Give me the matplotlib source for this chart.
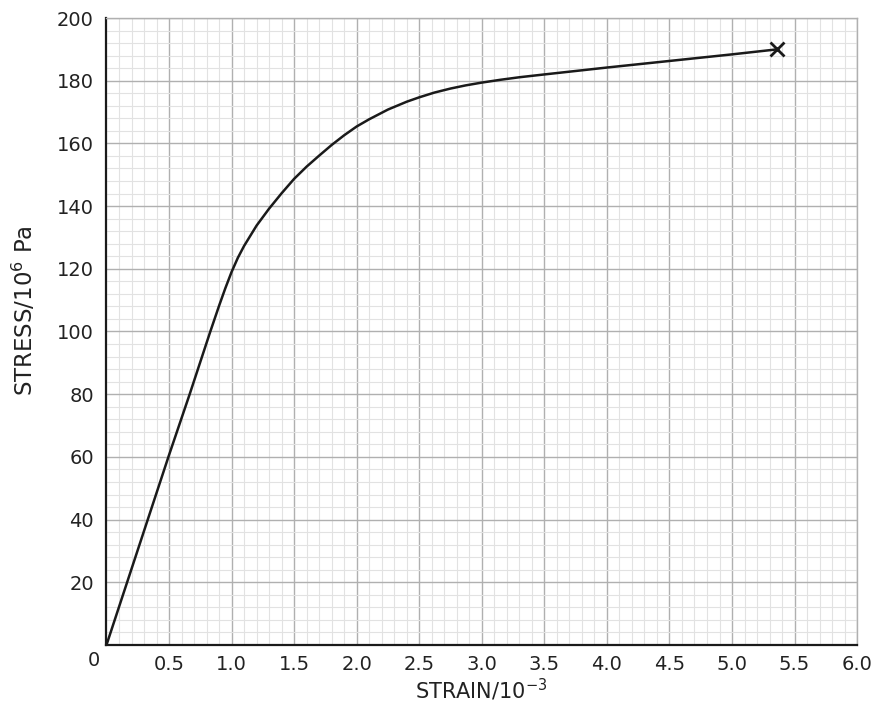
import matplotlib.pyplot as plt
import numpy as np
from matplotlib.ticker import MultipleLocator

# stress-strain curve
strain = [0.0, 0.165, 0.33, 0.495, 0.665, 0.83, 0.9, 0.95, 1.0, 1.05, 1.1, 1.2, 1.3, 1.4,
          1.5, 1.6, 1.7, 1.8, 1.9, 2.0, 2.1, 2.25, 2.4, 2.5, 2.62, 2.75, 2.87,
          3.0, 3.15, 3.3, 3.5, 4.0, 4.5, 5.0, 5.36]
stress = [0.0, 20, 40, 60, 80, 100, 108.2, 113.8, 119, 123.5, 127.3, 133.8, 139.2, 144.1,
          148.7, 152.6, 156.1, 159.5, 162.6, 165.4, 167.7, 170.8, 173.3, 174.7, 176.2, 177.5, 178.5,
          179.4, 180.3, 181.1, 182.0, 184.2, 186.3, 188.4, 190]

# breaking point
break_strain = 5.36
break_stress = 190

x_ticks = [0.5, 1.0, 1.5, 2.0, 2.5, 3.0, 3.5, 4.0, 4.5, 5.0, 5.5, 6.0]
y_ticks = [20, 40, 60, 80, 100, 120, 140, 160, 180, 200]

plt.rcParams['font.family'] = ['DejaVu Sans']

fig = plt.figure(figsize=(8.8, 7.09), dpi=100)
ax = fig.add_axes([0.121, 0.0903, 0.853, 0.8843])

ax.set_xlim(0, 6.0)
ax.set_ylim(0, 200)

# graph paper grid
ax.xaxis.set_minor_locator(MultipleLocator(0.1))
ax.yaxis.set_minor_locator(MultipleLocator(4))
ax.grid(which='minor', color='#e2e2e2', lw=0.8)
ax.grid(which='major', color='#b0b0b0', lw=1.0)
ax.set_axisbelow(True)

ax.plot(strain, stress, color='#1a1a1a', lw=1.8, solid_capstyle='round', solid_joinstyle='round')
ax.plot([break_strain], [break_stress], marker='x', color='#1a1a1a', ms=10, mew=2.0)

ax.set_xticks(x_ticks)
ax.set_xticklabels(['%.1f' % v for v in x_ticks])
ax.set_yticks(y_ticks)
ax.set_yticklabels([str(v) for v in y_ticks])
ax.tick_params(which='both', length=0, labelsize=14, colors='#222222')
ax.tick_params(axis='x', pad=7)
ax.tick_params(axis='y', pad=9)

for s in ['top', 'right']:
    ax.spines[s].set_color('#b0b0b0')
    ax.spines[s].set_linewidth(1.0)
for s in ['left', 'bottom']:
    ax.spines[s].set_color('#1a1a1a')
    ax.spines[s].set_linewidth(1.6)

ax.text(-0.1, -4.8, '0', ha='center', va='center', fontsize=14, color='#222222')

ax.set_xlabel('STRAIN/10$^{-3}$', fontsize=15, color='#222222')
ax.set_ylabel('STRESS/10$^{6}$ Pa', fontsize=16.5, color='#222222')
ax.xaxis.set_label_coords(0.5, -0.072)
ax.xaxis.label.set_verticalalignment('center')
ax.yaxis.set_label_coords(-0.109, 0.533)
ax.yaxis.label.set_verticalalignment('center')

plt.savefig('out.png', dpi=100)
